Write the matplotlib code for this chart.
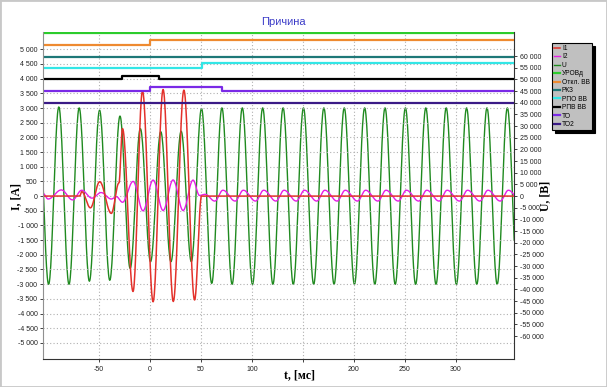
import numpy as np
import matplotlib
matplotlib.use("Agg")
import matplotlib.pyplot as plt
from matplotlib.patches import Rectangle
from matplotlib.ticker import FuncFormatter

# analog channels: peak / trough points (t in ms)
i1_t = [-105, -69, -67, -58.5, -49.4, -38, -30.5, -27, -16.7, -7.4, 3, 12.8, 22.8, 33.2, 43.7, 50.5, 357]
i1_v = [0, 0, 150, -400, 490, -590, 450, 2300, -3250, 3580, -3600, 3630, -3590, 3610, -3540, 0, 0]

i2_t = [-105, -100, -87, -76, -67, -57, -48, -38, -33, -27, -16.6, -6.9, 3, 12.8, 22.6, 32.4, 42.2, 48.5, 54]
i2_v = [90, -100, 210, -130, 200, -70, 120, -100, -20, -210, 500, -500, 545, -490, 550, -490, 545, 20, 60]
# after the fault I2 settles: troughs every 20 ms from 63.5 ms, peaks 8 ms later
i2_trough_t = np.arange(63.5, 364, 20)
i2_trough, i2_peak = -170, 200

# U: extremes every half period starting at -109.5 ms
u_t = np.arange(-109.5, 361, 10)
u_v = [37800, -37800, 38200, -37800, 37800, -36500, 36800, -36100, 34300, -31000,
       28900, -28100, 27600, -28100, 27800, -28100, 37500, -37400] + [37800, -37800] * 15

# discrete channels (drawn at fixed levels on the current axis)
uro_t, uro_v = [-105, 357], [5570, 5570]
otkl_t, otkl_v = [-105, 0, 357], [5160, 5310, 5310]
rkz_t, rkz_v = [-105, 357], [4737, 4737]
rpo_t, rpo_v = [-105, 51, 357], [4360, 4545, 4545]
rpv_t, rpv_v = [-105, -28, 8.7, 357], [3980, 4105, 3980, 3980]
to_t, to_v = [-105, 0, 71, 357], [3570, 3730, 3570, 3570]
to2_t, to2_v = [-105, 357], [3170, 3170]

labels = ["I1", "I2", "U", "УРОВд", "Откл. ВВ", "РКЗ", "РПО ВВ", "РПВ ВВ", "ТО", "ТО2"]
x_ticks = [-50, 0, 50, 100, 150, 200, 250, 300]


def wave(t_ext, v_ext, n=24):
    # half-cosine between consecutive extremes
    ts, vs = [], []
    for k in range(len(t_ext) - 1):
        s = np.linspace(0, 1, n, endpoint=False)
        ts.append(t_ext[k] + (t_ext[k + 1] - t_ext[k]) * s)
        vs.append(v_ext[k] + (v_ext[k + 1] - v_ext[k]) * (1 - np.cos(np.pi * s)) / 2)
    ts.append([t_ext[-1]])
    vs.append([v_ext[-1]])
    return np.concatenate(ts), np.concatenate(vs)


i2_full_t = list(i2_t)
i2_full_v = list(i2_v)
for tt in i2_trough_t:
    i2_full_t += [tt, tt + 8]
    i2_full_v += [i2_trough, i2_peak]


def thousands(v, pos):
    return f"{int(round(v)):,}".replace(",", " ")


def xfmt(v, pos):
    # the axis title sits where "150" would be
    return "" if abs(v - 150) < 1 else f"{int(round(v))}"


fig = plt.figure(figsize=(6.07, 3.87), dpi=100)
fig.patch.set_facecolor("white")
ax = fig.add_axes([43 / 607, 1 - 359 / 387, 471 / 607, 327 / 387])
ax2 = ax.twinx()
ax.set_zorder(ax2.get_zorder() + 1)
ax.patch.set_visible(False)

tu, vu = wave(list(u_t), u_v)
(l_u,) = ax2.plot(tu, vu, color="#1f8a1f", lw=1.0)

t1, v1 = wave(i1_t, i1_v)
t2, v2 = wave(i2_full_t, i2_full_v)
(l_i2,) = ax.plot(t2, v2, color="#e61ee6", lw=1.0)
(l_i1,) = ax.plot(t1, v1, color="#e3312b", lw=1.1)

dig = [
    (uro_t, uro_v, "#2ccc2c"),
    (otkl_t, otkl_v, "#ee8a30"),
    (rkz_t, rkz_v, "#1e7878"),
    (rpo_t, rpo_v, "#33e6e6"),
    (rpv_t, rpv_v, "#000000"),
    (to_t, to_v, "#7a2ae6"),
    (to2_t, to2_v, "#3a1a86"),
]
dig_lines = []
for tt, vv, c in dig:
    (ln,) = ax.plot(tt, vv, drawstyle="steps-post", color=c, lw=1.6)
    dig_lines.append(ln)

ax.set_xlim(-105, 357)
ax.set_ylim(-5550, 5590)
ax2.set_ylim(-69800, 70300)

ax.set_xticks(x_ticks)
ax.set_yticks(np.arange(-5000, 5001, 500))
ax2.set_yticks(np.arange(-60000, 60001, 5000))
ax.xaxis.set_major_formatter(FuncFormatter(xfmt))
ax.yaxis.set_major_formatter(FuncFormatter(thousands))
ax2.yaxis.set_major_formatter(FuncFormatter(thousands))

ax.grid(True, color="#b0b0b0", lw=0.8, linestyle=(0, (1, 2)))

for a in (ax, ax2):
    a.tick_params(labelsize=5, length=2.5, width=0.6, pad=1.5, colors="#222222")
    for lab in a.get_xticklabels() + a.get_yticklabels():
        lab.set_family("Liberation Sans")
    a.spines["top"].set_visible(False)
ax.spines["left"].set_color("#909090")
ax.spines["bottom"].set_color("#333333")
ax2.spines["right"].set_color("#333333")
ax2.spines["left"].set_visible(False)
ax2.spines["bottom"].set_visible(False)
ax.spines["right"].set_visible(False)
ax.tick_params(axis="x", pad=2.5)

fig.text(283 / 607, 1 - 22 / 387, "Причина", ha="center", va="center",
         color="#3c3cc8", fontsize=8, family="Liberation Sans")
fig.text(16 / 607, 1 - 196 / 387, "I, [A]", rotation=90, ha="center", va="center",
         fontsize=8.5, fontweight="bold", family="Liberation Serif")
fig.text(545 / 607, 1 - 196 / 387, "U, [В]", rotation=90, ha="center", va="center",
         fontsize=8.5, fontweight="bold", family="Liberation Serif")
fig.text(300 / 607, 1 - 375 / 387, "t, [мс]", ha="center", va="center",
         fontsize=8.5, fontweight="bold", family="Liberation Serif")

handles = [l_i1, l_i2, l_u] + dig_lines
leg = fig.legend(handles, labels, loc="upper left",
                 bbox_to_anchor=(552 / 607, 1 - 43 / 387), borderaxespad=0,
                 prop={"family": "Liberation Sans", "size": 4.8},
                 frameon=True, fancybox=False, shadow={"color": "black", "alpha": 1},
                 facecolor="#c0c0c0", edgecolor="black", framealpha=1,
                 handlelength=0.9, handletextpad=0.3, labelspacing=0.22, borderpad=0.3)
leg.get_frame().set_linewidth(0.8)

fig.add_artist(Rectangle((0, 0), 1, 1, transform=fig.transFigure, fill=False,
                         edgecolor="#c8c8c8", lw=2))

fig.savefig("out.png", dpi=100)
